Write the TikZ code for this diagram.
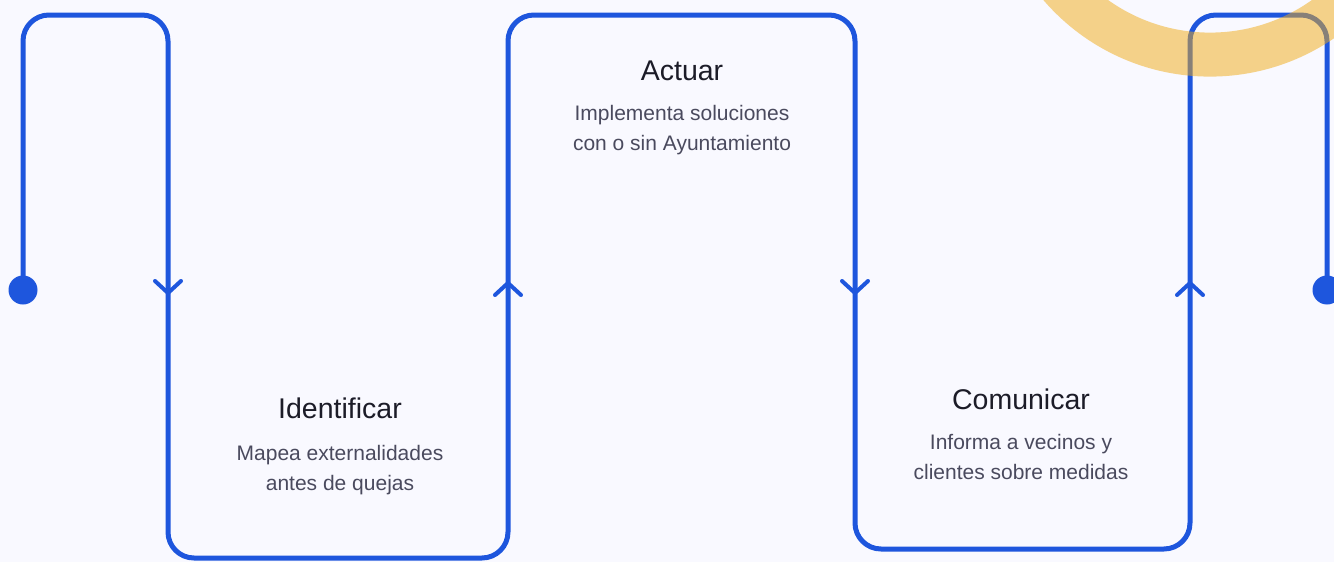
\documentclass[tikz,border=0pt]{standalone}
\usepackage{fontspec}
\setmainfont{Liberation Sans}
\definecolor{bgc}{RGB}{249,249,255}
\definecolor{flow}{RGB}{30,86,221}
\definecolor{ttl}{RGB}{28,28,40}
\definecolor{sub}{RGB}{74,74,94}
\definecolor{ring}{RGB}{240,170,20}
\begin{document}
\begin{tikzpicture}[x=1pt,y=-1pt,
  flowline/.style={draw=flow,line width=5pt,rounded corners=26pt,line join=round},
  chev/.style={draw=flow,line width=4pt,line cap=round,line join=round},
  dotnode/.style={circle,fill=flow,minimum size=29pt,inner sep=0pt},
  title/.style={font=\fontsize{28.5}{34}\selectfont,text=ttl,anchor=base},
  desc/.style={font=\fontsize{21}{29.5}\selectfont,text=sub,align=center,anchor=north}]
\useasboundingbox (0,0) rectangle (1334,562);
\fill[bgc] (0,0) rectangle (1334,562);
% corners
\coordinate (c1) at (23,15);
\coordinate (c2) at (168,15);
\coordinate (c3) at (168,558);
\coordinate (c4) at (508,558);
\coordinate (c5) at (508,15);
\coordinate (c6) at (855,15);
\coordinate (c7) at (855,549);
\coordinate (c8) at (1190,549);
\coordinate (c9) at (1190,15);
\coordinate (c10) at (1327,15);
\node[dotnode] (start) at (23,290) {};
\node[dotnode] (end) at (1327,290) {};
\path[flowline] (start.center) -- (c1) -- (c2) -- (c3) -- (c4) -- (c5) -- (c6) -- (c7) -- (c8) -- (c9) -- (c10) -- (end.center);
% chevrons
\coordinate (a1) at (168,293);
\coordinate (a2) at (508,283);
\coordinate (a3) at (855,293);
\coordinate (a4) at (1190,283);
\draw[chev] ([shift={(-13,-12)}]a1) -- (a1) -- ([shift={(13,-12)}]a1);
\draw[chev] ([shift={(-13,12)}]a2) -- (a2) -- ([shift={(13,12)}]a2);
\draw[chev] ([shift={(-13,-12)}]a3) -- (a3) -- ([shift={(13,-12)}]a3);
\draw[chev] ([shift={(-13,12)}]a4) -- (a4) -- ([shift={(13,12)}]a4);
% texts
\node[title] (t1) at (340,418) {Identificar};
\node[desc] (d1) at (340,442) {Mapea externalidades\\antes de quejas};
\node[title] (t2) at (682,80) {Actuar};
\node[desc] (d2) at (682,102) {Implementa soluciones\\con o sin Ayuntamiento};
\node[title] (t3) at (1021,409) {Comunicar};
\node[desc] (d3) at (1021,431) {Informa a vecinos y\\clientes sobre medidas};
% ring
\draw[ring,opacity=0.5,line width=44pt] (1210,-143) circle[radius=197.6];
\end{tikzpicture}
\end{document}
